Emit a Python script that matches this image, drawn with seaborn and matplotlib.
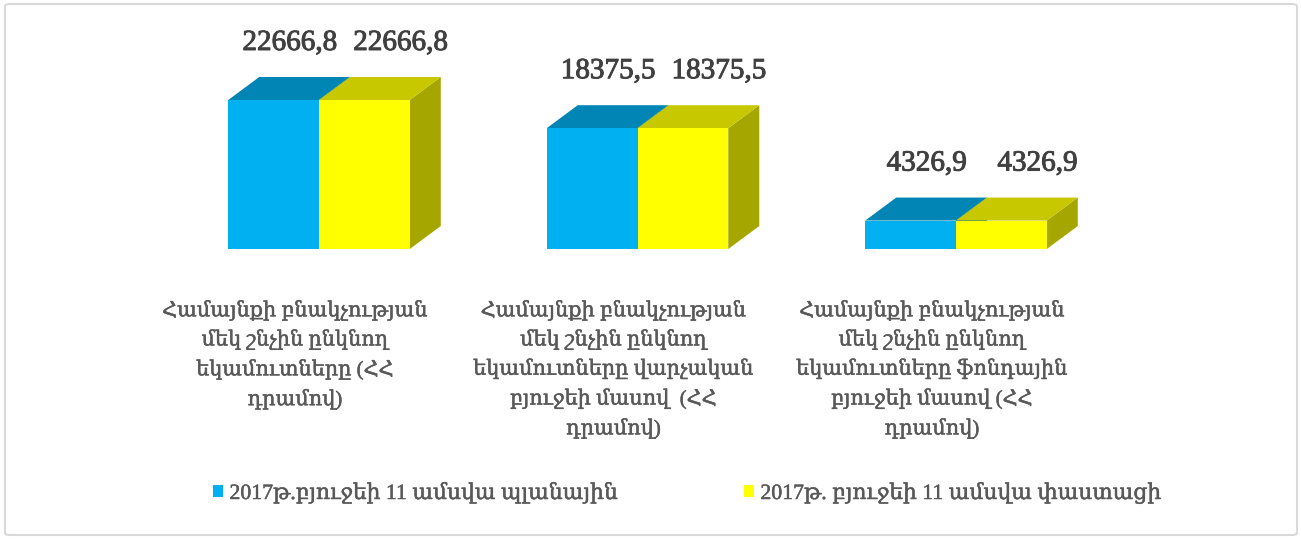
import numpy as np
import pandas as pd
import matplotlib
matplotlib.use("Agg")
import matplotlib.pyplot as plt
from matplotlib.patches import Polygon, FancyBboxPatch, Patch
import matplotlib.patheffects as pe
import seaborn as sns

# ---------------- data ----------------
categories = [
    "Համայնքի բնակչության\nմեկ շնչին ընկնող\nեկամուտները (ՀՀ\nդրամով)",
    "Համայնքի բնակչության\nմեկ շնչին ընկնող\nեկամուտները վարչական\nբյուջեի մասով  (ՀՀ\nդրամով)",
    "Համայնքի բնակչության\nմեկ շնչին ընկնող\nեկամուտները ֆոնդային\nբյուջեի մասով (ՀՀ\nդրամով)",
]
series_names = ["2017թ.բյուջեի 11 ամսվա պլանային", "2017թ. բյուջեի 11 ամսվա փաստացի"]
plan_values = [22666.8, 18375.5, 4326.9]
actual_values = [22666.8, 18375.5, 4326.9]
value_labels_plan = ["22666,8", "18375,5", "4326,9"]
value_labels_actual = ["22666,8", "18375,5", "4326,9"]

# ---------------- style ----------------
sns.set_theme(style="white")
plt.rcParams["font.family"] = ["Liberation Serif", "DejaVu Serif"]

front_colors = ["#00B0F0", "#FFFF00"]
top_colors = ["#0085B5", "#C8C800"]
side_colors = ["#0070A0", "#A6A600"]

W, H, DPI = 1301, 539, 100
fig = plt.figure(figsize=(W / DPI, H / DPI), dpi=DPI)

# axes placement (pixels)
ax_left, ax_right = 159.75, 1115.25
ax_bottom_px = 249.0
ymax = 25000
ax_top_px = ax_bottom_px - 149.0 / 22666.8 * ymax
ax = fig.add_axes([ax_left / W, (H - ax_bottom_px) / H,
                   (ax_right - ax_left) / W, (ax_bottom_px - ax_top_px) / H])

df = pd.DataFrame({
    "category": categories * 2,
    "series": [series_names[0]] * 3 + [series_names[1]] * 3,
    "value": plan_values + actual_values,
})

sns.barplot(data=df, x="category", y="value", hue="series",
            palette=front_colors, width=0.57, gap=0, saturation=1,
            linewidth=0, legend=False, ax=ax, errorbar=None)

ax.set_xlim(-0.5, 2.5)
ax.set_ylim(0, ymax)
ax.axis("off")

# depth offsets in data units
dx_px, dy_px = 31.0, 23.0
p0 = ax.transData.transform((0, 0))
p1 = ax.transData.transform((1, 1))
dx = dx_px / (p1[0] - p0[0])
dy = dy_px / (p1[1] - p0[1])

stroke = [pe.withStroke(linewidth=0.7, foreground="#404040")]
stroke_lbl = [pe.withStroke(linewidth=0.35, foreground="#595959")]
bars = [p for p in ax.patches if p.get_height() > 0]
for p in bars:
    fc = p.get_facecolor()
    idx = 0 if fc[2] > 0.5 else 1
    x0, w, h = p.get_x(), p.get_width(), p.get_height()
    x1 = x0 + w
    side = Polygon([(x1, 0), (x1 + dx, dy), (x1 + dx, h + dy), (x1, h)],
                   closed=True, facecolor=side_colors[idx], edgecolor="none",
                   zorder=1 + idx * 0.5, clip_on=False)
    top = Polygon([(x0, h), (x1, h), (x1 + dx, h + dy), (x0 + dx, h + dy)],
                  closed=True, facecolor=top_colors[idx], edgecolor="none",
                  zorder=1.2 + idx * 0.5, clip_on=False)
    ax.add_patch(side)
    ax.add_patch(top)
    p.set_zorder(3)
    p.set_clip_on(False)

    cat_i = int(round(x0 + w / 2 + (0.1425 if idx == 0 else -0.1425)))
    lbl = (value_labels_plan if idx == 0 else value_labels_actual)[cat_i]
    xoff = 16 if idx == 0 else 36
    ax.annotate(lbl, xy=(x0 + w / 2, h), xytext=(xoff, 57),
                textcoords="offset pixels", ha="center", va="center",
                fontsize=21, color="#404040", annotation_clip=False,
                path_effects=stroke)

# category labels
for i, c in enumerate(categories):
    ax.annotate(c, xy=(i, 0), xytext=(-24, -52), textcoords="offset pixels",
                ha="center", va="top", multialignment="center",
                fontsize=15, color="#595959", linespacing=1.6,
                annotation_clip=False, path_effects=stroke_lbl)

# legend
handles = [Patch(facecolor=front_colors[0], edgecolor="none"),
           Patch(facecolor=front_colors[1], edgecolor="none")]
leg = fig.legend(handles, series_names, loc="center",
                 bbox_to_anchor=(687 / W, 1 - 493 / H), ncol=2, frameon=False,
                 fontsize=15.7, labelcolor="#595959", handlelength=0.45,
                 handleheight=0.45, handletextpad=0.3, columnspacing=5.8)
for t in leg.get_texts():
    t.set_path_effects(stroke_lbl)

# chart border
border = FancyBboxPatch((5 / W, 4 / H), (1292 / W), (531 / H),
                        boxstyle="round,pad=0,rounding_size=0.004",
                        transform=fig.transFigure, facecolor="none",
                        edgecolor="#D9D9D9", linewidth=1.5)
fig.patches.append(border)

fig.savefig("out.png", dpi=DPI, facecolor="white")
